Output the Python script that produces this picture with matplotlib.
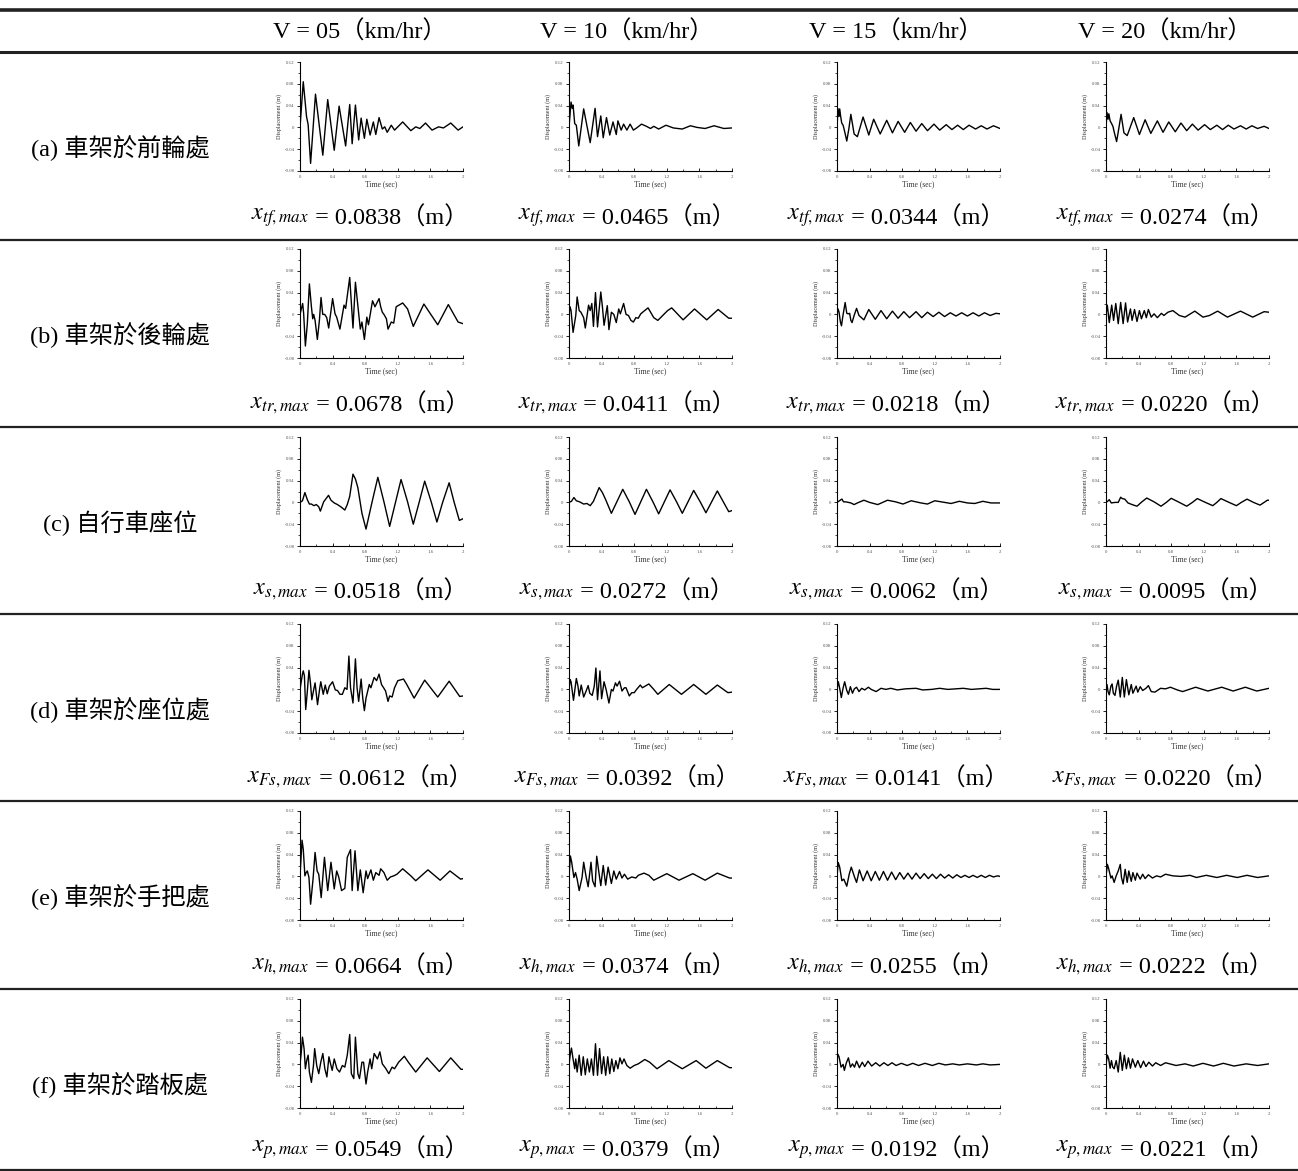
import matplotlib.pyplot as plt
from matplotlib.lines import Line2D
from matplotlib.ticker import MultipleLocator, FuncFormatter

plt.rcParams['font.family'] = ['Liberation Serif', 'Noto Sans CJK TC']
plt.rcParams['mathtext.fontset'] = 'stix'
plt.rcParams['axes.unicode_minus'] = False

# table headers
speeds = ['05', '10', '15', '20']
row_labels = ['(a) 車架於前輪處', '(b) 車架於後輪處', '(c) 自行車座位',
              '(d) 車架於座位處', '(e) 車架於手把處', '(f) 車架於踏板處']
sub_names = ['tf', 'tr', 's', 'Fs', 'h', 'p']
max_disp = [
    [0.0838, 0.0465, 0.0344, 0.0274],
    [0.0678, 0.0411, 0.0218, 0.0220],
    [0.0518, 0.0272, 0.0062, 0.0095],
    [0.0612, 0.0392, 0.0141, 0.0220],
    [0.0664, 0.0374, 0.0255, 0.0222],
    [0.0549, 0.0379, 0.0192, 0.0221],
]

# displacement curves: (time s, displacement mm)
a1 = [(0, 0), (0.04, 83.8), (0.08, 20), (0.10, 5), (0.13, -66), (0.19, 61), (0.28, -51), (0.34, 51),
      (0.42, -42), (0.48, 39), (0.56, -34), (0.61, 42), (0.64, -30), (0.68, 41), (0.72, -23), (0.75, 17),
      (0.79, -20), (0.82, 15), (0.86, -14), (0.90, 10), (0.93, -13), (0.97, 18), (1.01, -3), (1.04, 1),
      (1.07, -9), (1.12, 4), (1.16, -5), (1.26, 10), (1.36, -6), (1.42, 1), (1.47, -2), (1.54, 8),
      (1.62, -5), (1.70, 1), (1.76, -1), (1.85, 8), (1.94, -5), (2.0, 1)]
a2 = [(0, 0), (0.025, 46.5), (0.04, 35), (0.05, 41), (0.07, 7), (0.09, 4), (0.12, -34), (0.18, 34),
      (0.26, -28), (0.32, 35), (0.35, -17), (0.39, 21), (0.42, -19), (0.46, 18), (0.50, -14), (0.54, 10),
      (0.58, -13), (0.60, 12), (0.64, -5), (0.67, 6), (0.71, -5), (0.75, 6), (0.79, -5), (0.83, -1),
      (0.89, 6), (0.95, 2), (1.0, -2), (1.04, 2), (1.10, -3), (1.19, 4), (1.28, -1), (1.39, -3),
      (1.49, 3), (1.57, 0), (1.67, -2), (1.78, 3), (1.90, -2), (2.0, -1)]
a3 = [(0, 0), (0.012, 34.4), (0.025, 20), (0.033, 34), (0.045, 20), (0.058, 8), (0.075, 4), (0.09, -5),
      (0.12, -25), (0.145, -3), (0.17, 24), (0.21, -12), (0.25, -17), (0.32, 19), (0.39, -14), (0.45, 15),
      (0.53, -12), (0.61, 13), (0.68, -10), (0.75, 11), (0.83, -9), (0.90, 9), (0.97, -7), (1.04, 7),
      (1.11, -6), (1.19, 6), (1.26, -5), (1.34, 5), (1.41, -4), (1.48, 4), (1.55, -4), (1.62, 4),
      (1.70, -3), (1.77, 3), (1.84, -3), (1.92, 3), (2.0, -2)]
a4 = [(0, 0), (0.012, 27.4), (0.025, 15), (0.035, 25), (0.05, 12), (0.065, 8), (0.085, 2), (0.10, -8),
      (0.13, -26), (0.155, -4), (0.185, 24), (0.22, -10), (0.26, -15), (0.34, 18), (0.41, -13), (0.48, 14),
      (0.55, -11), (0.63, 12), (0.70, -9), (0.77, 10), (0.85, -8), (0.92, 8), (0.99, -6), (1.06, 6),
      (1.13, -5), (1.21, 5), (1.28, -4), (1.36, 4), (1.43, -4), (1.50, 4), (1.57, -3), (1.65, 3),
      (1.72, -3), (1.79, 3), (1.86, -2), (1.94, 2), (2.0, -2)]

b1 = [(0, 0), (0.016, 10), (0.033, 20), (0.045, 1), (0.066, -58), (0.09, -17), (0.115, 56), (0.14, 14),
      (0.156, -8), (0.168, 0), (0.185, -11), (0.213, -46), (0.238, -11), (0.258, 31), (0.279, 0),
      (0.303, 0), (0.328, -6), (0.352, -25), (0.40, 29), (0.43, 1), (0.45, -5), (0.49, -27), (0.54, 17),
      (0.56, 11), (0.61, 67.8), (0.65, -25), (0.68, 59), (0.74, -27), (0.76, -14), (0.79, -46), (0.82, -5),
      (0.84, -19), (0.89, 25), (0.92, 14), (0.97, 29), (0.99, 14), (1.01, 4), (1.03, 0), (1.06, -8),
      (1.08, -27), (1.12, -14), (1.15, -16), (1.18, 14), (1.26, 21), (1.32, 10), (1.39, -22), (1.52, 19),
      (1.69, -19), (1.82, 18), (1.94, -14), (2.0, -17)]
b2 = [(0, 0), (0.013, 14), (0.025, 7), (0.05, -33), (0.083, -2), (0.10, 32), (0.125, 7), (0.146, 4),
      (0.18, -6), (0.20, -25), (0.24, 17), (0.26, 7), (0.28, 20), (0.30, -22), (0.325, 40), (0.35, -23),
      (0.39, 41.1), (0.41, 14), (0.43, -20), (0.47, 16), (0.49, -28), (0.52, 4), (0.55, 0), (0.58, -15),
      (0.61, 10), (0.63, 1), (0.67, 20), (0.70, 0), (0.73, -2), (0.76, -11), (0.79, -14), (0.82, -6),
      (0.85, -7), (0.88, 1), (0.92, 6), (0.97, 12), (1.04, -6), (1.09, -11), (1.21, 7), (1.26, 12),
      (1.40, -10), (1.54, 10), (1.69, -10), (1.83, 9), (1.96, -7), (2.0, -7)]
b3 = [(0, 0), (0.013, 10), (0.025, 4), (0.042, -14), (0.055, -21), (0.07, -5), (0.10, 21.8), (0.12, 2),
      (0.138, 1), (0.155, 2), (0.17, -11), (0.185, -15), (0.21, -2), (0.24, 11), (0.27, -2), (0.33, -10),
      (0.39, 9), (0.47, -9), (0.54, 7), (0.61, -8), (0.68, 6), (0.75, -7), (0.82, 5), (0.89, -6),
      (0.97, 5), (1.04, -6), (1.11, 4), (1.18, -4), (1.25, 4), (1.32, -4), (1.39, 3), (1.46, -3),
      (1.53, 3), (1.60, -3), (1.67, 3), (1.74, -3), (1.81, 3), (1.88, -2), (1.95, 2), (2.0, 1)]
b4 = [(0, 0), (0.016, 17), (0.04, -15), (0.07, 17), (0.093, -11), (0.12, 20), (0.15, -17), (0.18, 22.0),
      (0.21, -17), (0.24, 21), (0.265, -14), (0.30, 10), (0.32, -11), (0.35, 9), (0.38, -13), (0.41, 7),
      (0.435, -8), (0.47, 7), (0.495, -6), (0.52, 9), (0.555, -5), (0.59, 1), (0.63, -6), (0.68, 2),
      (0.71, -2), (0.76, 4), (0.82, 7), (0.90, -2), (0.97, -5), (1.09, 6), (1.19, -5), (1.27, -2),
      (1.37, 6), (1.49, -5), (1.65, 6), (1.80, -5), (1.94, 5), (2.0, 4)]

c1 = [(0, 0), (0.03, 3), (0.06, 18), (0.09, 5), (0.115, -3), (0.14, -3), (0.17, -6), (0.20, -4),
      (0.23, -8), (0.25, -16), (0.29, 1), (0.35, 13), (0.38, 4), (0.42, -1), (0.46, -4), (0.50, -8),
      (0.55, -14), (0.58, -4), (0.61, 11), (0.65, 51.8), (0.68, 43), (0.71, 27), (0.76, -20), (0.81, -49),
      (0.88, -2), (0.955, 46), (1.03, 1), (1.10, -44), (1.17, -1), (1.24, 42), (1.32, 1), (1.39, -40),
      (1.46, -1), (1.53, 39), (1.61, 1), (1.68, -36), (1.75, 0), (1.83, 36), (1.89, 1), (1.955, -33),
      (2.0, -30)]
c2 = [(0, 0), (0.03, 2), (0.06, 9), (0.09, 3), (0.13, 1), (0.18, -3), (0.22, -2), (0.26, -6), (0.30, 2),
      (0.37, 27.2), (0.41, 18), (0.45, 5), (0.52, -20), (0.59, 2), (0.66, 24), (0.74, 1), (0.81, -22),
      (0.88, 1), (0.95, 24), (1.03, 1), (1.10, -21), (1.17, 1), (1.24, 23), (1.32, 1), (1.39, -20),
      (1.46, 1), (1.53, 22), (1.61, 1), (1.68, -19), (1.75, 1), (1.82, 21), (1.89, 2), (1.96, -17),
      (2.0, -15)]
c3 = [(0, 0), (0.02, 2), (0.04, 4), (0.06, 6.2), (0.08, 1), (0.11, 1), (0.17, -1), (0.21, -4), (0.25, -1),
      (0.33, 4), (0.40, 0), (0.50, -4), (0.62, 4), (0.72, 1), (0.81, -3), (0.91, 3), (1.03, -1),
      (1.11, -3), (1.20, 3), (1.32, 0), (1.40, -2), (1.50, 2), (1.60, -1), (1.69, -2), (1.79, 2),
      (1.89, -1), (2.0, -1)]
c4 = [(0, 0), (0.02, 2), (0.04, 5), (0.065, -1), (0.11, 0), (0.15, 0), (0.18, 9.5), (0.20, 7), (0.23, 6),
      (0.27, -1), (0.32, -4), (0.38, -7), (0.44, 1), (0.50, 8), (0.59, 1), (0.675, -7), (0.74, 0),
      (0.80, 7.5), (0.90, 0), (0.99, -7), (1.06, 0), (1.12, 7), (1.22, 0), (1.31, -6), (1.36, 0),
      (1.41, 7), (1.51, 0), (1.60, -6), (1.66, 0), (1.73, 6), (1.81, 0), (1.89, -5), (1.98, 4), (2.0, 4)]

d1 = [(0, 0), (0.016, 15), (0.03, 28), (0.04, 34), (0.054, 25), (0.07, -37), (0.087, -9), (0.11, 35),
      (0.128, 12), (0.145, -19), (0.165, -3), (0.185, 12), (0.215, -28), (0.243, 3), (0.255, 14),
      (0.285, -9), (0.31, 8), (0.334, -8), (0.36, 6), (0.40, 14), (0.433, -1), (0.46, -2), (0.49, -9),
      (0.52, -9), (0.55, 3), (0.577, 0), (0.60, 61.2), (0.62, 3), (0.65, -25), (0.68, 56), (0.70, 3),
      (0.72, -22), (0.75, 19), (0.77, -16), (0.79, -39), (0.81, -16), (0.85, 9), (0.87, 3), (0.91, 22),
      (0.94, 16), (0.97, 28), (1.0, 9), (1.03, 2), (1.05, -3), (1.08, -22), (1.10, -12), (1.13, -14),
      (1.16, 3), (1.20, 16), (1.27, 19), (1.31, 9), (1.40, -16), (1.53, 17), (1.69, -14), (1.83, 15),
      (1.96, -13), (2.0, -12)]
d2 = [(0, 0), (0.013, 18), (0.025, 14), (0.055, -20), (0.09, 20), (0.11, 6), (0.125, -12), (0.15, 8),
      (0.18, -14), (0.21, -3), (0.235, 7), (0.255, -7), (0.285, -11), (0.31, 6), (0.33, 39.2),
      (0.35, -19), (0.38, 34), (0.40, -17), (0.43, 14), (0.455, 0), (0.49, -25), (0.52, 0), (0.54, -3),
      (0.57, 12), (0.59, 6), (0.62, 15), (0.65, -3), (0.68, 3), (0.70, 3), (0.74, -12), (0.77, -6),
      (0.80, -6), (0.83, 0), (0.875, 8), (0.90, 3), (0.98, 10), (1.04, 0), (1.09, -9), (1.23, 9),
      (1.38, -9), (1.53, 9), (1.68, -9), (1.82, 8), (1.95, -6), (2.0, -5)]
d3 = [(0, 0), (0.016, 14.1), (0.033, 2), (0.053, -15), (0.074, 2), (0.094, 14), (0.12, -2), (0.14, -9),
      (0.164, 5), (0.19, -7), (0.213, 1), (0.24, 4), (0.27, -4), (0.303, 2), (0.34, -1), (0.385, 4),
      (0.42, 0), (0.48, -4), (0.54, 2), (0.60, 0), (0.66, 2), (0.74, -1), (0.84, 1), (0.97, 2),
      (1.05, -1), (1.16, 0), (1.26, 2), (1.36, 0), (1.55, 2), (1.65, 0), (1.83, 2), (1.91, 0), (2.0, 0)]
d4 = [(0, 0), (0.012, 9), (0.025, -4), (0.04, -10), (0.06, 6), (0.075, 10), (0.09, -7), (0.11, -11),
      (0.13, 6), (0.15, 17), (0.175, -14), (0.20, 22.0), (0.225, -14), (0.25, 18), (0.28, -10),
      (0.31, 9), (0.33, -7), (0.37, 6), (0.39, -5), (0.42, 5), (0.45, -2), (0.49, 2), (0.52, 7),
      (0.555, -4), (0.60, -5), (0.67, 2), (0.73, 1), (0.79, 4), (0.875, -1), (0.94, -4), (1.10, 4),
      (1.25, -3), (1.42, 4), (1.56, -3), (1.71, 4), (1.85, -3), (2.0, 2)]

e1 = [(0, 0), (0.025, 66.4), (0.04, 50), (0.06, 1), (0.075, 7), (0.09, 10), (0.11, -2), (0.13, -51),
      (0.16, -5), (0.185, 44), (0.21, 10), (0.23, 4), (0.26, -39), (0.30, 35), (0.34, -26), (0.38, 26),
      (0.42, -23), (0.45, 10), (0.475, -1), (0.51, -26), (0.55, -22), (0.58, 35), (0.62, 49), (0.64, -26),
      (0.675, 47), (0.71, -26), (0.74, 12), (0.775, -30), (0.81, 10), (0.83, -4), (0.87, 12), (0.90, -7),
      (0.93, 7), (0.97, 2), (0.99, 14), (1.03, 7), (1.07, -7), (1.11, -1), (1.15, 1), (1.19, 4),
      (1.26, 14), (1.36, 1), (1.42, -8), (1.57, 12), (1.72, -7), (1.84, 10), (1.97, -5), (2.0, -4)]
e2 = [(0, 0), (0.017, 37.4), (0.033, 26), (0.06, -2), (0.08, 7), (0.10, -5), (0.125, -26), (0.16, -2),
      (0.18, 26), (0.21, -1), (0.235, -19), (0.27, 26), (0.29, -8), (0.32, -19), (0.34, 37), (0.37, 4),
      (0.39, -17), (0.42, 20), (0.45, -16), (0.48, 17), (0.52, -13), (0.55, 10), (0.58, -5), (0.62, 9),
      (0.65, -3), (0.68, 4), (0.72, -5), (0.77, -1), (0.82, -3), (0.85, 2), (0.92, 6), (0.98, 2),
      (1.04, -7), (1.12, -1), (1.20, 5), (1.35, -7), (1.52, 5), (1.67, -7), (1.82, 6), (1.97, -3),
      (2.0, -3)]
e3 = [(0, 0), (0.015, 25.5), (0.033, 17), (0.06, -8), (0.083, -5), (0.12, -18), (0.15, 4), (0.175, 17),
      (0.217, -2), (0.24, -11), (0.275, 12), (0.32, -8), (0.37, 10), (0.42, -8), (0.47, 9), (0.52, -7),
      (0.57, 9), (0.62, -7), (0.67, 8), (0.72, -6), (0.77, 7), (0.82, -5), (0.87, 6), (0.92, -5),
      (0.97, 6), (1.02, -4), (1.07, 5), (1.12, -4), (1.17, 4), (1.22, -4), (1.27, 4), (1.32, -3),
      (1.37, 3), (1.42, -3), (1.47, 3), (1.52, -2), (1.57, 2), (1.62, -2), (1.67, 2), (1.72, -2),
      (1.77, 2), (1.82, -2), (1.87, 2), (1.92, -1), (1.97, 1), (2.0, 0)]
e4 = [(0, 0), (0.017, 22.2), (0.033, 14), (0.06, -3), (0.075, 1), (0.10, -11), (0.125, 1), (0.15, 10),
      (0.175, 22), (0.19, -2), (0.21, -14), (0.235, 13), (0.26, -11), (0.28, 10), (0.31, -9), (0.33, 7),
      (0.36, -7), (0.38, 6), (0.42, -5), (0.45, 4), (0.48, -4), (0.52, 3), (0.57, -3), (0.62, 1),
      (0.67, -1), (0.73, 4), (0.82, 1), (0.92, 0), (1.03, 2), (1.11, -2), (1.23, 2), (1.36, -2),
      (1.48, 2), (1.61, -2), (1.73, 2), (1.86, -2), (2.0, 1)]

f1 = [(0, 0), (0.016, 23), (0.03, 50), (0.05, 29), (0.066, -8), (0.082, 7), (0.10, 17), (0.115, -14),
      (0.14, -33), (0.165, -2), (0.18, 29), (0.205, -2), (0.23, -17), (0.255, 4), (0.28, 20), (0.305, -8),
      (0.33, -23), (0.355, 14), (0.37, 4), (0.395, -11), (0.42, 10), (0.453, -8), (0.485, -14),
      (0.52, -2), (0.55, -5), (0.58, 17), (0.61, 54.9), (0.63, -17), (0.66, -26), (0.68, 50), (0.71, -17),
      (0.73, -26), (0.76, 4), (0.78, 4), (0.81, -36), (0.83, -14), (0.86, 10), (0.88, -8), (0.91, 20),
      (0.95, 10), (0.98, 23), (1.01, 1), (1.05, -7), (1.09, -17), (1.13, -5), (1.16, -8), (1.21, 4),
      (1.28, 15), (1.33, 4), (1.42, -14), (1.56, 12), (1.71, -13), (1.85, 12), (1.975, -9), (2.0, -9)]
f2 = [(0, 0), (0.017, 20), (0.03, 30), (0.05, 10), (0.07, -8), (0.083, 10), (0.10, -14), (0.125, 17),
      (0.15, -20), (0.175, 14), (0.20, -19), (0.225, 10), (0.25, -14), (0.275, 10), (0.30, -20),
      (0.325, 37.9), (0.35, -20), (0.375, 29), (0.40, -17), (0.425, 14), (0.45, -20), (0.475, 14),
      (0.50, -17), (0.525, 10), (0.55, -13), (0.575, 7), (0.60, -8), (0.625, 12), (0.65, 1), (0.675, 10),
      (0.71, -2), (0.75, -7), (0.80, -2), (0.85, 1), (0.93, 9), (0.99, 4), (1.08, -8), (1.225, 7),
      (1.39, -8), (1.56, 7), (1.68, -7), (1.82, 7), (1.97, -6), (2.0, -6)]
f3 = [(0, 0), (0.008, 19.2), (0.025, 14), (0.05, -5), (0.075, 0), (0.09, -11), (0.115, 3), (0.14, 12),
      (0.165, -5), (0.19, 1), (0.215, -5), (0.24, 6), (0.275, -6), (0.31, 4), (0.34, -4), (0.38, 6),
      (0.425, -3), (0.475, 3), (0.525, -3), (0.575, 3), (0.625, -2), (0.675, 3), (0.725, -2), (0.79, 2),
      (0.86, -2), (0.93, 2), (1.0, -2), (1.08, 2), (1.17, -2), (1.25, 2), (1.33, -1), (1.42, 1),
      (1.50, -1), (1.60, 1), (1.71, -1), (1.79, 1), (1.88, -1), (2.0, 0)]
f4 = [(0, 0), (0.017, 17), (0.033, 10), (0.05, -7), (0.067, 7), (0.083, -5), (0.10, -8), (0.125, 7),
      (0.15, -14), (0.175, 22.1), (0.20, -11), (0.225, 17), (0.25, -8), (0.275, 12), (0.30, -7),
      (0.325, 10), (0.36, -5), (0.39, 7), (0.425, -6), (0.46, 6), (0.49, -4), (0.525, 4), (0.57, -3),
      (0.61, 3), (0.67, -2), (0.73, 3), (0.86, -2), (0.97, 1), (1.07, -3), (1.19, 2), (1.32, -3),
      (1.44, 2), (1.57, -3), (1.72, 1), (1.86, -2), (2.0, 1)]

curves = [[a1, a2, a3, a4], [b1, b2, b3, b4], [c1, c2, c3, c4],
          [d1, d2, d3, d4], [e1, e2, e3, e4], [f1, f2, f3, f4]]

W, H = 1298, 1171
fig = plt.figure(figsize=(W / 100, H / 100), dpi=100)


def px_rect(x0, y0, w, h):
    return [x0 / W, 1 - (y0 + h) / H, w / W, h / H]


def hline(y, lw):
    fig.add_artist(Line2D([0, 1], [1 - y / H, 1 - y / H], transform=fig.transFigure,
                          color='#222222', lw=lw))


# table rules
hline(10, 2.6)
hline(52, 2.2)
row_lines = [240, 427, 614, 801, 989]
for y in row_lines:
    hline(y, 1.6)
hline(1169.5, 1.6)

col_text_x = [360, 627, 896, 1165]
axes_left = [300, 569, 837, 1106]
row_top = [62, 249, 437, 624, 811, 999]

for j, v in enumerate(speeds):
    fig.text(col_text_x[j] / W, 1 - 32 / H, f'V = {v}（km/hr）', ha='center', va='center', fontsize=17.5)

fmt = FuncFormatter(lambda v, _: f'{round(v, 3):g}')
renderer = fig.canvas.get_renderer()

for i in range(6):
    top = row_top[i]
    fig.text(120 / W, 1 - (top + 86) / H, row_labels[i], ha='center', va='center', fontsize=17.5)
    for j in range(4):
        ax = fig.add_axes(px_rect(axes_left[j], top, 163, 109))
        pts = curves[i][j]
        t = [p[0] for p in pts]
        d = [p[1] / 1000 for p in pts]
        ax.plot(t, d, color='black', lw=1.0)
        ax.set_xlim(0, 2)
        ax.set_ylim(-0.08, 0.12)
        ax.xaxis.set_major_locator(MultipleLocator(0.4))
        ax.xaxis.set_minor_locator(MultipleLocator(0.2))
        ax.yaxis.set_major_locator(MultipleLocator(0.04))
        ax.yaxis.set_minor_locator(MultipleLocator(0.02))
        ax.xaxis.set_major_formatter(fmt)
        ax.yaxis.set_major_formatter(fmt)
        ax.spines['top'].set_visible(False)
        ax.spines['right'].set_visible(False)
        for s in ['left', 'bottom']:
            ax.spines[s].set_linewidth(0.8)
        ax.tick_params(axis='y', which='major', direction='out', length=2.5, width=0.6,
                       labelsize=3.5, labelcolor='#555555', pad=1.5)
        ax.tick_params(axis='y', which='minor', direction='out', length=1.5, width=0.5)
        ax.tick_params(axis='x', which='major', direction='in', length=2.5, width=0.6,
                       labelsize=3.5, labelcolor='#555555', pad=3)
        ax.tick_params(axis='x', which='minor', direction='in', length=1.5, width=0.5)
        ax.set_ylabel('Displacement (m)', fontsize=4.5, color='#333333', labelpad=2)
        ax.set_xlabel('Time (sec)', fontsize=5.5, color='#333333', labelpad=0.5)

        # formula below the plot: math part + value part, centred together
        ty = 1 - (row_lines[i] - 22 if i < 5 else 1150) / H
        t1 = fig.text(0, ty, f'$x_{{{sub_names[i]},max}}$', ha='left', va='center', fontsize=17.5)
        t2 = fig.text(0, ty, f' = {max_disp[i][j]:.4f}（m）', ha='left', va='center', fontsize=17.5)
        w1 = t1.get_window_extent(renderer).width
        w2 = t2.get_window_extent(renderer).width
        x0 = col_text_x[j] - (w1 + w2) / 2
        t1.set_x(x0 / W)
        t2.set_x((x0 + w1) / W)

fig.savefig('out.png', dpi=100)
